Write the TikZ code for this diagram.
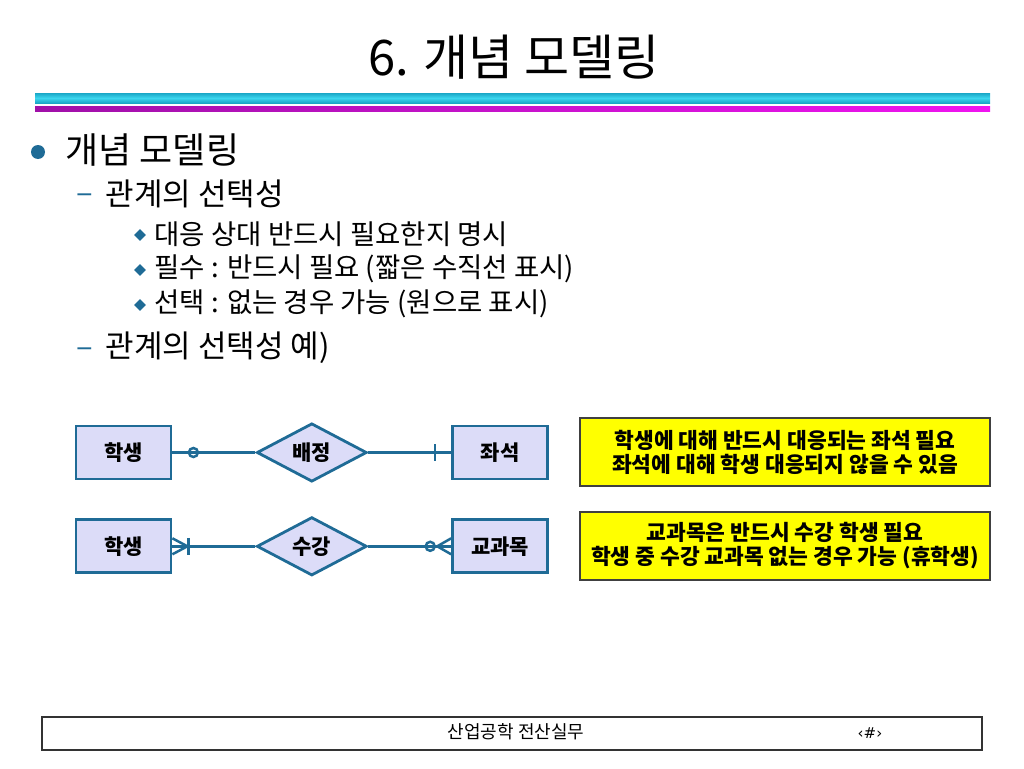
\documentclass[tikz,border=0pt]{standalone}
\usepackage{fontspec}
\setmainfont{Noto Sans CJK KR}
\newfontfamily\symfont{DejaVu Sans}
\usepackage{tikz}
\usetikzlibrary{shapes.geometric,positioning}
\usepackage{xcolor}
\definecolor{erblue}{HTML}{1F6B96}
\definecolor{erfill}{HTML}{DCDCF8}
\definecolor{noteyellow}{HTML}{FFFF00}
\definecolor{barcyan}{HTML}{1AA6C6}
\definecolor{barlight}{HTML}{3CD6EE}
\definecolor{barmag}{HTML}{A010A8}
\definecolor{barpink}{HTML}{F014F0}
\tikzset{
  entity/.style={draw=erblue, fill=erfill, line width=2.8pt, minimum width=95pt, minimum height=53pt, font=\bfseries\fontsize{21}{24}\selectfont},
  relship/.style={draw=erblue, fill=erfill, diamond, line width=2.8pt, minimum width=110pt, minimum height=52pt, inner sep=0pt, font=\bfseries\fontsize{21}{24}\selectfont},
  link/.style={draw=erblue, line width=2.8pt},
  cardmark/.style={draw=erblue, line width=2.5pt},
  note/.style={draw=black!75, fill=noteyellow, line width=1.5pt, minimum width=410pt, minimum height=68pt, align=center, font=\bfseries\fontsize{21.5}{24}\selectfont},
  lvlone/.style={anchor=west, font=\fontsize{36}{40}\selectfont},
  lvltwo/.style={anchor=west, font=\fontsize{31}{35}\selectfont},
  lvlthree/.style={anchor=west, font=\fontsize{27.5}{31}\selectfont},
  dia bullet/.style={diamond, fill=erblue, minimum size=12pt, inner sep=0pt}
}

\begin{document}
\begin{tikzpicture}[x=1pt, y=-1pt]
    \useasboundingbox (0,0) rectangle (1024,768);
    % title and bars
    \node[font=\fontsize{49}{54}\selectfont] (title) at (514,57) {6. 개념 모델링};
    \shade[top color=barcyan, bottom color=barcyan, middle color=barlight] (35,93) rectangle (990,103);
    \shade[left color=barmag, right color=barpink] (35,106) rectangle (990,111);

    % bullet text
    \fill[erblue] (38,152) circle (7pt);
    \node[lvlone] (topic) at (62,150) {개념 모델링};
    \node[lvltwo, text=erblue] (dashA) at (73,199) {–};
    \node[lvltwo] (optA) at (102,194) {관계의 선택성};
    \node[dia bullet] (dotA) at (140,235) {};
    \node[lvlthree] (itemA) at (151,234) {대응 상대 반드시 필요한지 명시};
    \node[dia bullet] (dotB) at (140,270) {};
    \node[lvlthree] (itemB) at (151,269) {필수 : 반드시 필요 (짧은 수직선 표시)};
    \node[dia bullet] (dotC) at (140,305) {};
    \node[lvlthree] (itemC) at (151,304) {선택 : 없는 경우 가능 (원으로 표시)};
    \node[lvltwo, text=erblue] (dashB) at (73,353) {–};
    \node[lvltwo] (optB) at (102,348) {관계의 선택성 예)};

    % first relation
    \node[entity] (stuA) at (123.5,452.5) {학생};
    \node[relship, right=83pt of stuA] (assign) {배정};
    \node[entity, right=83pt of assign] (seat) {좌석};
    \draw[link] (stuA) -- (assign);
    \draw[link] (assign) -- (seat);
    \draw[cardmark] ([xshift=21pt]stuA.east) circle (4.5pt);
    \draw[cardmark] ([xshift=-16pt,yshift=8.5pt]seat.west) -- ([xshift=-16pt,yshift=-8.5pt]seat.west);

    % second relation
    \node[entity, below=38pt of stuA] (stuB) {학생};
    \node[relship, right=83pt of stuB] (enroll) {수강};
    \node[entity, right=83pt of enroll] (course) {교과목};
    \draw[link] (stuB) -- (enroll);
    \draw[link] (enroll) -- (course);
    \draw[cardmark] ([yshift=8pt]stuB.east) -- ([xshift=15pt]stuB.east) -- ([yshift=-8pt]stuB.east);
    \draw[cardmark] ([xshift=16pt,yshift=8.5pt]stuB.east) -- ([xshift=16pt,yshift=-8.5pt]stuB.east);
    \draw[cardmark] ([yshift=8pt]course.west) -- ([xshift=-14pt]course.west) -- ([yshift=-8pt]course.west);
    \draw[cardmark] ([xshift=-21pt]course.west) circle (4.5pt);

    % notes
    \node[note] (noteA) at (785,452) {학생에 대해 반드시 대응되는 좌석 필요\\좌석에 대해 학생 대응되지 않을 수 있음};
    \node[note] (noteB) at (785,546) {교과목은 반드시 수강 학생 필요\\학생 중 수강 교과목 없는 경우 가능 (휴학생)};

    % footer
    \draw[black!80, line width=1.5pt] (42,717) rectangle (982,750);
    \node[font=\fontsize{18}{21}\selectfont] (course name) at (516,732) {산업공학 전산실무};
    \node[font=\symfont\fontsize{15}{18}\selectfont] (page) at (870,733) {‹\#›};
\end{tikzpicture}
\end{document}
